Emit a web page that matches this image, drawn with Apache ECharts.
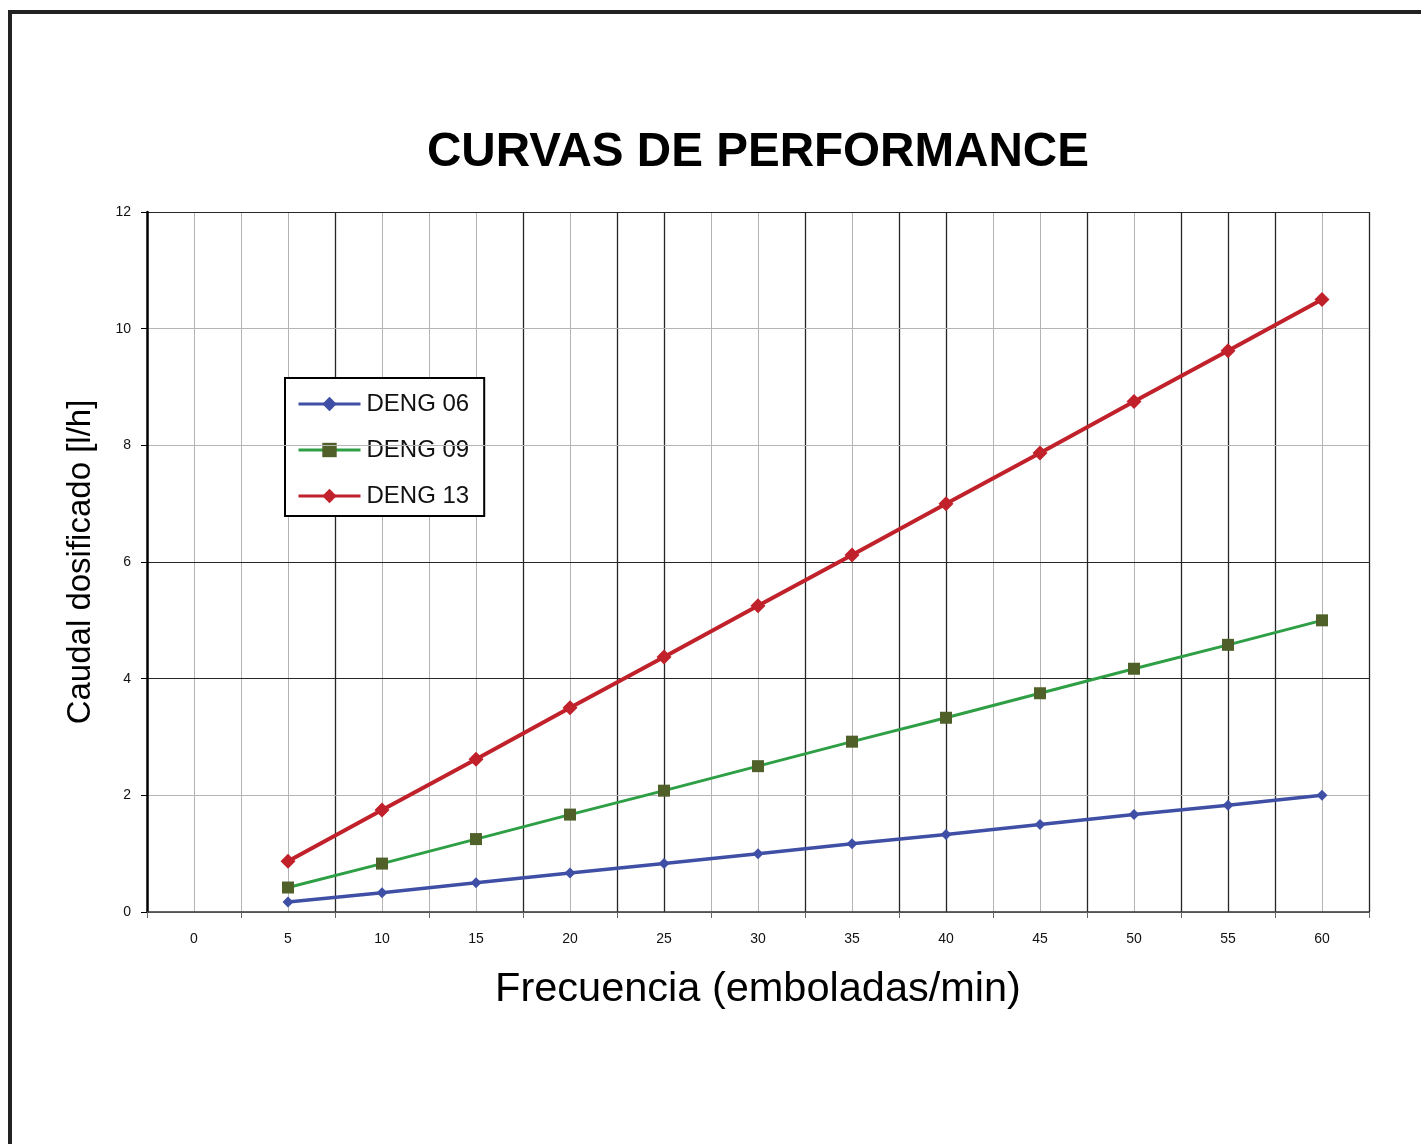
<!DOCTYPE html>
<html>
<head>
<meta charset="utf-8">
<title>Curvas de performance</title>
<script src="https://cdn.jsdelivr.net/npm/echarts@6/dist/echarts.min.js"></script>
<style>
  html, body { margin: 0; padding: 0; background: #fff; }
  #chart { width: 1421px; height: 1144px; }
</style>
</head>
<body>
<div id="chart"></div>
<script>
// frecuencia (emboladas/min)
var categories = ['0', '5', '10', '15', '20', '25', '30', '35', '40', '45', '50', '55', '60']
// caudal dosificado [l/h], no value at 0
var deng06 = [null, 0.17, 0.33, 0.5, 0.67, 0.83, 1.0, 1.17, 1.33, 1.5, 1.67, 1.83, 2.0]
var deng09 = [null, 0.42, 0.83, 1.25, 1.67, 2.08, 2.5, 2.92, 3.33, 3.75, 4.17, 4.58, 5.0]
var deng13 = [null, 0.87, 1.75, 2.62, 3.5, 4.37, 5.25, 6.12, 7.0, 7.87, 8.75, 9.62, 10.5]
var seriesNames = ['DENG 06', 'DENG 09', 'DENG 13']

// half-band grid slots (27 lines), some of them drawn dark like the scan
var gridSlots = []
for (var i = 0; i <= 26; i++) gridSlots.push(String(i))
var darkSlots = [4, 8, 10, 11, 14, 16, 17, 20, 22, 23, 24, 26]

var font = 'Arial, "Liberation Sans", Helvetica, sans-serif'
var light = '#b4b4b4'
var dark = '#262626'

var chart = echarts.init(document.getElementById('chart'))
chart.setOption({
  backgroundColor: '#fff',
  animation: false,
  title: {
    text: 'CURVAS DE PERFORMANCE',
    left: 427,
    top: 129,
    padding: 0,
    textStyle: { fontFamily: font, fontSize: 47.6, fontWeight: 'bold', color: '#000' }
  },
  graphic: [{
    type: 'rect',
    shape: { x: 10, y: 12, width: 1500, height: 1300 },
    style: { fill: 'none', stroke: '#222', lineWidth: 4 },
    silent: true
  }],
  legend: {
    orient: 'vertical',
    left: 285,
    top: 378,
    padding: [14, 15, 8, 12],
    itemGap: 22,
    itemWidth: 62,
    itemHeight: 18,
    backgroundColor: '#fff',
    borderColor: '#000',
    borderWidth: 2,
    lineStyle: { width: 3 },
    data: seriesNames,
    textStyle: { fontFamily: font, fontSize: 24, color: '#111', padding: [0, 0, 0, 1] }
  },
  grid: { left: 147, top: 212, right: 52, bottom: 232 },
  xAxis: [{
    type: 'category',
    data: categories,
    boundaryGap: true,
    name: 'Frecuencia (emboladas/min)',
    nameLocation: 'middle',
    nameGap: 57,
    nameTextStyle: { fontFamily: font, fontSize: 41.5, color: '#000' },
    axisLine: { lineStyle: { color: '#333', width: 1.5 } },
    axisTick: { show: true, length: 6, lineStyle: { color: '#666' } },
    axisLabel: { fontFamily: font, fontSize: 14, color: '#111', margin: 20, interval: 0 },
    splitLine: { show: false },
    z: 5
  }, {
    type: 'category',
    data: gridSlots,
    boundaryGap: false,
    position: 'bottom',
    axisLine: { show: false },
    axisTick: { show: false },
    axisLabel: { show: false },
    splitLine: { show: true, interval: 0, lineStyle: { color: light, width: 1 } }
  }, {
    type: 'category',
    data: gridSlots,
    boundaryGap: false,
    position: 'bottom',
    axisLine: { show: false },
    axisTick: { show: false },
    axisLabel: { show: false },
    splitLine: {
      show: true,
      interval: function (index) { return darkSlots.indexOf(index) >= 0 },
      lineStyle: { color: dark, width: 1.3 }
    }
  }],
  yAxis: {
    type: 'value',
    min: 0,
    max: 12,
    interval: 2,
    name: 'Caudal dosificado [l/h]',
    nameLocation: 'middle',
    nameGap: 50,
    nameTextStyle: { fontFamily: font, fontSize: 33, color: '#000' },
    axisLine: { show: true, lineStyle: { color: '#000', width: 2.5 } },
    axisTick: { show: true, length: 6, lineStyle: { color: '#000' } },
    axisLabel: { fontFamily: font, fontSize: 14, color: '#111', margin: 16 },
    splitLine: {
      show: true,
      showMinLine: true,
      showMaxLine: true,
      lineStyle: { color: [light, light, dark, dark, light, light, dark], width: 1.2 }
    },
    z: 5
  },
  series: [{
    name: seriesNames[0],
    type: 'line',
    data: deng06,
    symbol: 'diamond',
    symbolSize: 11,
    itemStyle: { color: '#3f4fa6' },
    lineStyle: { color: '#3f4fa6', width: 3.5 },
    z: 10
  }, {
    name: seriesNames[1],
    type: 'line',
    data: deng09,
    symbol: 'rect',
    symbolSize: 12,
    itemStyle: { color: '#4f6129' },
    lineStyle: { color: '#2e9f45', width: 3 },
    z: 10
  }, {
    name: seriesNames[2],
    type: 'line',
    data: deng13,
    symbol: 'diamond',
    symbolSize: 15,
    itemStyle: { color: '#c0212a' },
    lineStyle: { color: '#c0212a', width: 4 },
    z: 10
  }]
})
</script>
</body>
</html>
